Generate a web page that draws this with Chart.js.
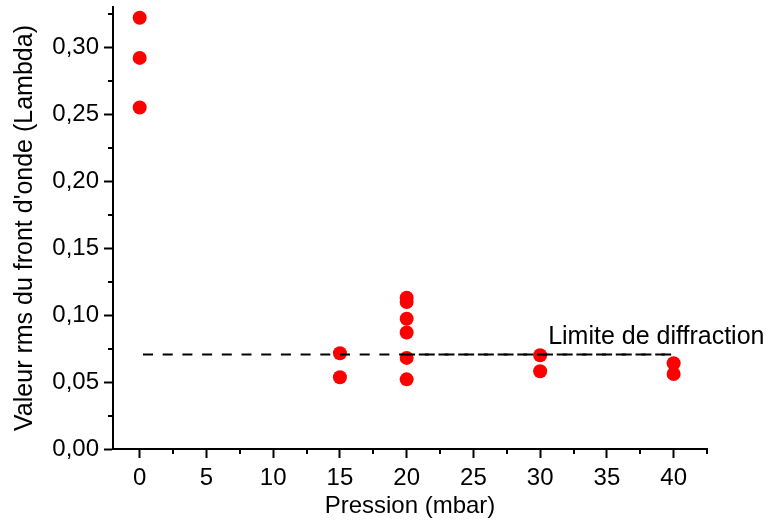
<!DOCTYPE html>
<html>
<head>
<meta charset="utf-8">
<script src="https://cdn.jsdelivr.net/npm/chart.js@4.4.1/dist/chart.umd.min.js"></script>
<style>
  html, body { margin: 0; padding: 0; background: #fff; }
  #wrap { width: 771px; height: 525px; }
</style>
</head>
<body>
<div id="wrap"><canvas id="myChart" width="771" height="525"></canvas></div>
<script>
// valeurs
var pression = [0, 0, 0, 15, 15, 20, 20, 20, 20, 20, 20, 30, 30, 40, 40];
var rms = [0.322, 0.292, 0.255, 0.0715, 0.0536, 0.113, 0.1097, 0.0972, 0.087, 0.068, 0.052, 0.070, 0.058, 0.064, 0.056];

// limite de diffraction (ligne pointillée, tracée deux fois à partir de 20 mbar)
var limiteX = [0, 40];
var limiteY = [0.0705, 0.0705];
var limite2X = [20, 40];
var limite2Y = [0.0705, 0.0705];

// graduations
var xTicks = [0, 5, 10, 15, 20, 25, 30, 35, 40];
var xMinor = [2.5, 7.5, 12.5, 17.5, 22.5, 27.5, 32.5, 37.5, 42.5];
var yTicks = [0, 0.05, 0.10, 0.15, 0.20, 0.25, 0.30];
var yMinor = [0.025, 0.075, 0.125, 0.175, 0.225, 0.275, 0.325];

Chart.defaults.font.family = '"Liberation Sans", Arial, sans-serif';
Chart.defaults.color = '#000';

// petites graduations
var minorTicks = {
    id: 'minorTicks',
    afterDraw: function (chart) {
        var ctx = chart.ctx;
        var xs = chart.scales.x, ys = chart.scales.y;
        ctx.save();
        ctx.strokeStyle = '#000';
        ctx.lineWidth = 2;
        ctx.beginPath();
        xMinor.forEach(function (v) {
            var px = Math.round(xs.getPixelForValue(v));
            ctx.moveTo(px, xs.top);
            ctx.lineTo(px, xs.top + 5);
        });
        yMinor.forEach(function (v) {
            var py = Math.round(ys.getPixelForValue(v));
            ctx.moveTo(ys.right, py);
            ctx.lineTo(ys.right - 5, py);
        });
        ctx.stroke();
        ctx.restore();
    }
};

// texte "Limite de diffraction"
var limiteLabel = {
    id: 'limiteLabel',
    afterDatasetsDraw: function (chart, args, opts) {
        var ctx = chart.ctx;
        ctx.save();
        ctx.font = '25px "Liberation Sans", Arial, sans-serif';
        ctx.fillStyle = '#000';
        ctx.textAlign = 'left';
        ctx.textBaseline = 'alphabetic';
        ctx.fillText(opts.text, chart.scales.x.getPixelForValue(opts.x), chart.scales.y.getPixelForValue(opts.y));
        ctx.restore();
    }
};

function virgule(v) { return v.toFixed(2).replace('.', ','); }

function pts(xs, ys) { return xs.map(function (x, i) { return { x: x, y: ys[i] }; }); }

var ctx = document.getElementById('myChart').getContext('2d');
var chart = new Chart(ctx, {
    type: 'scatter',
    data: {
        datasets: [{
            label: 'Limite de diffraction',
            data: pts(limiteX, limiteY),
            showLine: true,
            borderColor: '#000',
            borderWidth: 2,
            borderDash: [10, 9.7],
            borderDashOffset: -3.3,
            pointRadius: 0,
            order: 0
        }, {
            label: 'Limite (2)',
            data: pts(limite2X, limite2Y),
            showLine: true,
            borderColor: '#000',
            borderWidth: 2,
            borderDash: [10, 9.7],
            borderDashOffset: 1.6,
            pointRadius: 0,
            order: 0
        }, {
            label: 'rms',
            data: pts(pression, rms),
            backgroundColor: '#ff0000',
            borderColor: '#ff0000',
            borderWidth: 0,
            pointRadius: 7,
            order: 1
        }]
    },
    options: {
        responsive: false,
        animation: false,
        layout: { padding: { top: 5, right: 64, bottom: 0, left: 0 } },
        plugins: {
            legend: { display: false },
            tooltip: { enabled: false },
            limiteLabel: { text: 'Limite de diffraction', x: 30.6, y: 0.0784 }
        },
        scales: {
            x: {
                type: 'linear',
                min: -2,
                max: 42.5,
                afterBuildTicks: function (scale) { scale.ticks = xTicks.map(function (v) { return { value: v }; }); },
                afterFit: function (scale) { scale.height = 76; scale.paddingLeft = 0; scale.paddingRight = 0; },
                ticks: { font: { size: 24 }, padding: 6, maxRotation: 0, autoSkip: false, callback: function (v) { return v; } },
                grid: { drawOnChartArea: false, tickLength: 9, tickWidth: 2, tickColor: '#000' },
                border: { display: true, color: '#000', width: 2 },
                title: { display: true, text: 'Pression (mbar)', font: { size: 24 }, padding: { top: 0, bottom: 4 } }
            },
            y: {
                type: 'linear',
                min: 0,
                max: 0.33,
                afterBuildTicks: function (scale) { scale.ticks = yTicks.map(function (v) { return { value: v }; }); },
                afterFit: function (scale) { scale.width = 113; scale.paddingTop = 0; scale.paddingBottom = 0; },
                ticks: { font: { size: 24 }, padding: 5, autoSkip: false, callback: function (v) { return virgule(v); } },
                grid: { drawOnChartArea: false, tickLength: 9, tickWidth: 2, tickColor: '#000' },
                border: { display: true, color: '#000', width: 2 },
                title: { display: true, text: "Valeur rms du front d'onde (Lambda)", font: { size: 25 }, padding: { top: 10, bottom: 0 } }
            }
        }
    },
    plugins: [minorTicks, limiteLabel]
});
</script>
</body>
</html>
